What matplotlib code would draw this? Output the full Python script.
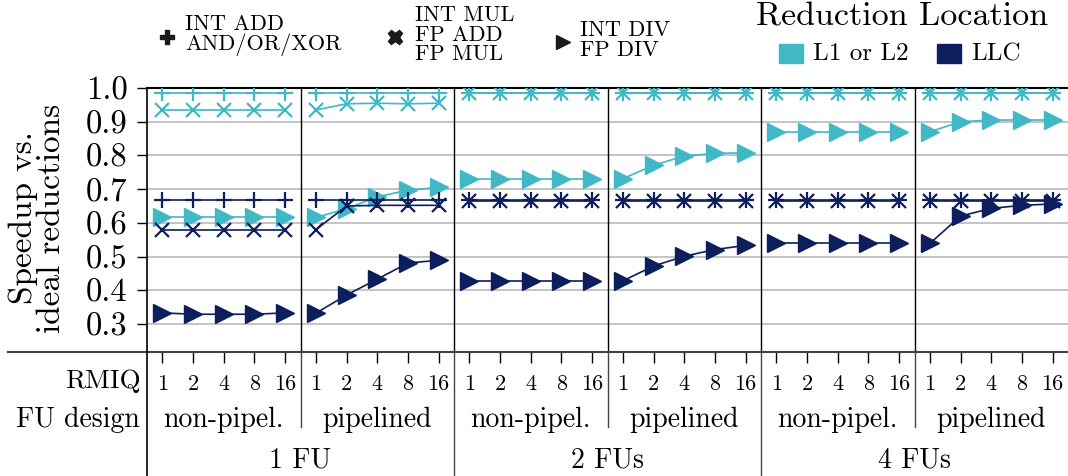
import matplotlib
matplotlib.use("Agg")
import matplotlib.pyplot as plt
from matplotlib.lines import Line2D
from matplotlib.patches import Rectangle

plt.rcParams["font.family"] = ["cmr10", "DejaVu Serif"]
plt.rcParams["axes.formatter.use_mathtext"] = True

# x axis structure
rmiq = ["1", "2", "4", "8", "16"]
fu_design = ["non-pipel.", "pipelined"]
fu_count = ["1 FU", "2 FUs", "4 FUs"]
y_ticks = [0.3, 0.4, 0.5, 0.6, 0.7, 0.8, 0.9, 1.0]

# speedup per configuration: 6 groups (FU count x design) of 5 RMIQ sizes
l1_add = [0.985] * 30
l1_mul = ([0.935] * 5 + [0.935, 0.953, 0.955, 0.953, 0.955]
          + [0.985] * 20)
l1_div = ([0.616] * 5 + [0.616, 0.642, 0.677, 0.697, 0.705]
          + [0.731] * 5 + [0.731, 0.771, 0.798, 0.806, 0.808]
          + [0.870] * 5 + [0.870, 0.900, 0.905, 0.905, 0.905])
llc_add = [0.667] * 30
llc_mul = ([0.580] * 5 + [0.580, 0.650, 0.652, 0.652, 0.652]
           + [0.666] * 20)
llc_div = ([0.333, 0.329, 0.329, 0.329, 0.333]
           + [0.332, 0.386, 0.433, 0.481, 0.489]
           + [0.428] * 5 + [0.428, 0.472, 0.501, 0.521, 0.533]
           + [0.539] * 5 + [0.539, 0.620, 0.643, 0.652, 0.656])

CYAN = "#40b8c6"
NAVY = "#0c1e5b"

fig = plt.figure(figsize=(10.68, 4.76), dpi=100)
ax = fig.add_axes([147 / 1068, 124 / 476, 921 / 1068, 264 / 476])

n = len(rmiq)
groups = len(fu_design) * len(fu_count)

series = [
    (l1_add, CYAN, "+", 12, 1.6),
    (l1_mul, CYAN, "x", 10.5, 1.6),
    (l1_div, CYAN, ">", 12.5, 1.0),
    (llc_add, NAVY, "+", 12, 1.6),
    (llc_mul, NAVY, "x", 10.5, 1.6),
    (llc_div, NAVY, ">", 12.5, 1.0),
]
for vals, col, mk, ms, mew in series:
    for g in range(groups):
        xs = list(range(g * n, g * n + n))
        ax.plot(xs, vals[g * n:(g + 1) * n], color=col, lw=1.2, marker=mk,
                ms=ms, mew=mew, zorder=3)

ax.set_xlim(-0.5, groups * n - 0.5)
ax.set_ylim(0.217, 1.0)
ax.set_yticks(y_ticks)
ax.set_yticklabels([f"{v:.1f}" for v in y_ticks], fontsize=23.5)
for v in y_ticks[:-1]:
    ax.axhline(v, color="#c4c4c4", lw=1.4, zorder=1)

ax.set_xticks(range(groups * n))
ax.set_xticklabels(rmiq * groups, fontsize=16)
ax.tick_params(axis="x", length=8, width=1, pad=8, direction="out")
ax.tick_params(axis="y", length=7, width=1, pad=7, direction="out")

for side in ["right", "bottom"]:
    ax.spines[side].set_visible(False)
ax.spines["top"].set_linewidth(1.5)
ax.spines["left"].set_linewidth(1.2)

# group dividers inside the plot and down through the labels
xt = ax.get_xaxis_transform()
for g in range(1, groups):
    x = g * n - 0.5
    ax.axvline(x, color="black", lw=1.0, zorder=2)
    low = -0.47 if g % 2 == 0 else -0.285
    ax.plot([x, x], [0, low], color="#444444", lw=1.0, transform=xt, clip_on=False)
ax.plot([-0.5, -0.5], [0, -0.47], color="black", lw=1.2, transform=xt, clip_on=False)
ax.plot([-0.151, 1.0], [0, 0], color="#444444", lw=1.5, transform=ax.transAxes,
        clip_on=False)

# row labels under the axis
ax.text(-0.72, -0.11, "RMIQ", transform=xt, ha="right", va="center", fontsize=19.5)
ax.text(-0.72, -0.258, "FU design", transform=xt, ha="right", va="center",
        fontsize=20)
for g in range(groups):
    ax.text(g * n + 2, -0.258, fu_design[g % 2], transform=xt, ha="center",
            va="center", fontsize=20)
for k, lab in enumerate(fu_count):
    ax.text(k * 2 * n + n - 0.5, -0.41, lab, transform=xt, ha="center",
            va="center", fontsize=20)

fig.text(37 / 1068, 1 - 218 / 476, "Speedup vs.\nideal reductions", rotation=90,
         ha="center", va="center", fontsize=24, linespacing=0.95)

# marker legend (operation types)
ops = [
    ("P", 167, 37, "INT ADD\nAND/OR/XOR", 185),
    ("X", 395, 37, "INT MUL\nFP ADD\nFP MUL", 415),
    (">", 563, 42, "INT DIV\nFP DIV", 580),
]
for mk, mx, my, lab, tx in ops:
    fig.add_artist(Line2D([mx / 1068], [1 - my / 476], marker=mk, ms=10.5,
                          color="#1a1a1a", ls="none", transform=fig.transFigure))
    fig.text(tx / 1068, 1 - (my - 2) / 476, lab, ha="left", va="center",
             fontsize=16, linespacing=1.0)

# colour legend (reduction location)
fig.text(902 / 1068, 1 - 17 / 476, "Reduction Location", ha="center", va="center",
         fontsize=24.5)
for px, col, lab in [(779, CYAN, "L1 or L2"), (937, NAVY, "LLC")]:
    fig.add_artist(Rectangle((px / 1068, 1 - 63 / 476), 24 / 1068, 19 / 476,
                             color=col, transform=fig.transFigure))
    fig.text((px + 34) / 1068, 1 - 54 / 476, lab, ha="left", va="center",
             fontsize=18)

fig.savefig("out.png", dpi=100)
